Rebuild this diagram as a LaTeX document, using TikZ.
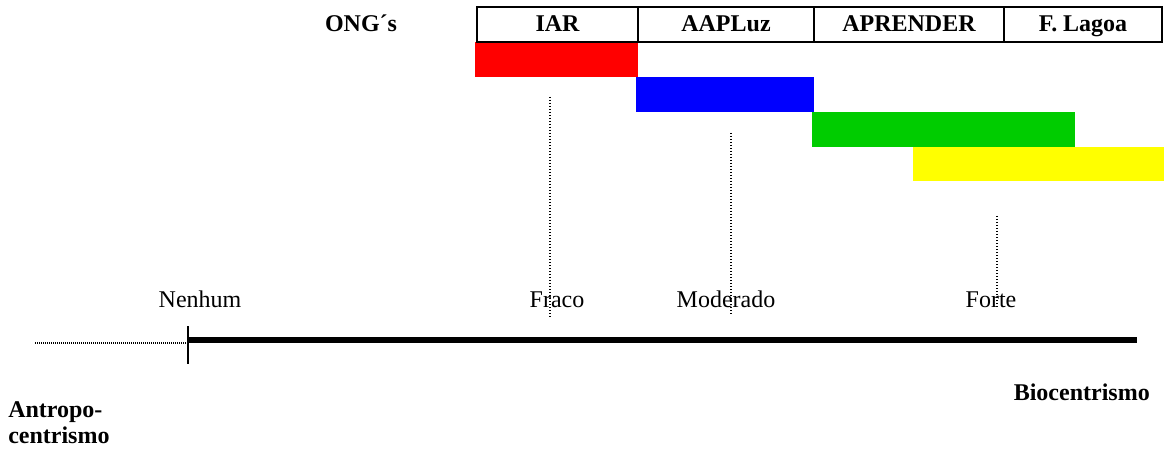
\documentclass[tikz,border=0pt]{standalone}
\usepackage{fontspec}
\setmainfont{Liberation Serif}
\definecolor{barred}{RGB}{255,0,0}
\definecolor{barblue}{RGB}{0,0,255}
\definecolor{bargreen}{RGB}{0,204,0}
\definecolor{baryellow}{RGB}{255,255,0}
\begin{document}
\begin{tikzpicture}[x=0.75pt,y=-0.75pt,
  lbl/.style={font=\fontsize{18}{20}\selectfont, anchor=base, inner sep=0pt},
  blbl/.style={font=\fontsize{18}{20}\selectfont\bfseries, anchor=base, inner sep=0pt},
  cell/.style={draw=black, line width=1.2pt, text height=18.75pt, text depth=7.5pt, inner xsep=0pt, inner ysep=0pt, font=\fontsize{18}{20}\selectfont\bfseries},
  guide/.style={line width=0.8pt, dash pattern=on 0.75pt off 1.5pt}]
\useasboundingbox (0,0) rectangle (1164,449);
% bars
\fill[barred]   (475,42) rectangle (638,77);
\fill[barblue]  (636,77) rectangle (814,112);
\fill[bargreen] (812,112) rectangle (1075,147);
\fill[baryellow](913,147) rectangle (1164,181);
% table
\node[cell, minimum width=120.75pt] (iar)  at (557.5,24.5) {IAR};
\node[cell, minimum width=132pt]    (aap)  at (726,24.5) {AAPLuz};
\node[cell, minimum width=142.5pt]  (apr)  at (909,24.5) {APRENDER};
\node[cell, minimum width=118.5pt]  (fla)  at (1083,24.5) {F. Lagoa};
\node[blbl] (ong) at (361,32) {ONG´s};
% guides
\coordinate (g1t) at (550,97);  \coordinate (g1b) at (550,317);
\coordinate (g2t) at (731,133); \coordinate (g2b) at (731,315);
\coordinate (g3t) at (997,216); \coordinate (g3b) at (997,307);
% labels
\node[lbl] (nen) at (200,307) {Nenhum};
\node[lbl] (fra) at (557,307) {Fraco};
\node[lbl] (mod) at (726,307) {Moderado};
\node[lbl] (for) at (991,307) {Forte};
\draw[guide] (g1t) -- (g1b);
\draw[guide] (g2t) -- (g2b);
\draw[guide] (g3t) -- (g3b);
% axis
\coordinate (a0) at (188,340);
\coordinate (a1) at (1137,340);
\coordinate (d0) at (35,343);
\coordinate (d1) at (188,343);
\coordinate (t0) at (188,326);
\coordinate (t1) at (188,364);
\draw[line width=3.8pt] (a0) -- (a1);
\draw[line width=1.2pt] (t0) -- (t1);
\draw[line width=0.8pt, dash pattern=on 0.75pt off 0.75pt] (d0) -- (d1);
\node[blbl, anchor=base west] (ant) at (8,417) {Antropo-};
\node[blbl, anchor=base west] (cen) at (8,443) {centrismo};
\node[blbl, anchor=base east] (bio) at (1150,400) {Biocentrismo};
\end{tikzpicture}
\end{document}
